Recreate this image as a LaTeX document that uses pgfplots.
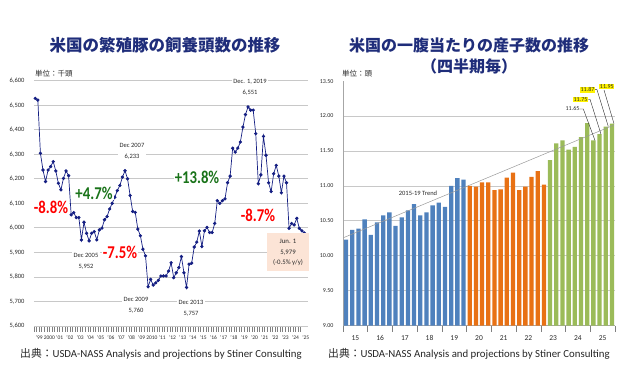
\documentclass[border=0pt]{standalone}
\usepackage{pgfplots}
\pgfplotsset{compat=1.18}
\usepackage{fontspec}
\setmainfont{Carlito}
\newfontfamily\jp{Noto Sans CJK JP}
\definecolor{navyline}{RGB}{20,30,130}
\definecolor{titleblue}{RGB}{31,45,122}
\definecolor{gridgray}{RGB}{200,200,200}
\definecolor{barblue}{RGB}{79,129,189}
\definecolor{barorange}{RGB}{232,113,20}
\definecolor{bargreen}{RGB}{155,187,89}
\definecolor{pctred}{RGB}{255,0,0}
\definecolor{pctgreen}{RGB}{25,115,25}
\definecolor{peach}{RGB}{252,228,214}
\definecolor{txt}{RGB}{40,40,40}
\newcommand{\pct}[1]{\scalebox{0.82}[1]{\fontsize{18}{20}\selectfont\bfseries #1}}
\begin{document}
\begin{tikzpicture}[x=1pt,y=1pt]
\path[use as bounding box] (0,0) rectangle (630,387);

% titles
\node[font=\jp\bfseries\fontsize{16.5}{18}\selectfont, text=titleblue] at (165,342) {米国の繁殖豚の飼養頭数の推移};
\node[font=\jp\bfseries\fontsize{16}{18}\selectfont, text=titleblue] at (469,342) {米国の一腹当たりの産子数の推移};
\node[font=\jp\bfseries\fontsize{16}{18}\selectfont, text=titleblue] at (469,321) {（四半期毎）};

% ---------------- left chart ----------------
\begin{axis}[at={(34pt,61pt)}, anchor=south west, scale only axis,
  width=274.3pt, height=245.3pt,
  xmin=0.5, xmax=107.5, ymin=5600, ymax=6600,
  axis x line*=bottom, axis y line*=left,
  x axis line style={color=gridgray, line width=0.8pt, -},
  y axis line style={draw=none, -},
  ytick={5600,5700,...,6600},
  ymajorgrids, grid style={color=gridgray, line width=0.8pt},
  ytick style={draw=none},
  yticklabel style={font=\fontsize{6.5}{7}\selectfont, text=txt,
     /pgf/number format/.cd, fixed, 1000 sep={,}, assume math mode=true},
  xtick={0.5,4.5,...,104.5}, xticklabels={},
  minor x tick num=3,
  tick align=outside, major tick length=6pt, minor tick length=6pt,
  xtick style={color=gray, line width=0.5pt},
  minor x tick style={color=gray, line width=0.5pt},
  extra x ticks={2.5,6.5,...,106.5},
  extra x tick labels={'99,2000,'01,'02,'03,'04,'05,'06,'07,'08,'09,2010,'11,'12,'13,'14,'15,'16,'17,'18,'19,'20,'21,'22,'23,'24,'25},
  extra x tick style={major tick length=0pt, minor tick length=0pt, grid=none,
     xticklabel style={font=\fontsize{5.5}{6}\selectfont, text=txt, yshift=-6pt}},
  clip=false,
]
\addplot[color=navyline, line width=0.7pt, mark=*, mark size=1.3pt] coordinates {
(1,6528) (2,6521) (3,6304) (4,6236) (5,6189) (6,6236) (7,6250) (8,6270) (9,6232) (10,6182)
(11,6155) (12,6202) (13,6232) (14,6213) (15,6053) (16,6062) (17,6042) (18,6042) (19,5951) (20,6023)
(21,5978) (22,5947) (23,5978) (24,5985) (25,5951) (26,5992) (27,5999) (28,6033) (29,6046) (30,6077)
(31,6100) (32,6125) (33,6152) (34,6173) (35,6207) (36,6233) (37,6200) (38,6132) (39,6067) (40,6063)
(41,5995) (42,5968) (43,5913) (44,5886) (45,5760) (46,5790) (47,5767) (48,5776) (49,5786) (50,5804)
(51,5804) (52,5804) (53,5824) (54,5858) (55,5797) (56,5817) (57,5838) (58,5883) (59,5817) (60,5757)
(61,5852) (62,5856) (63,5922) (64,5942) (65,5987) (66,5924) (67,5988) (68,6002) (69,5981) (70,5981)
(71,6018) (72,6111) (73,6100) (74,6111) (75,6118) (76,6184) (77,6211) (78,6325) (79,6309) (80,6325)
(81,6350) (82,6411) (83,6462) (84,6493) (85,6480) (86,6480) (87,6384) (88,6180) (89,6216) (90,6373)
(91,6296) (92,6184) (93,6148) (94,6221) (95,6255) (96,6211) (97,6143) (98,6211) (99,6184) (100,5998)
(101,6018) (102,6012) (103,6039) (104,5998) (105,5988) (106,5979)};
\end{axis}

% left annotations
\node[anchor=west, font=\jp\fontsize{7.5}{8}\selectfont, text=txt, inner sep=0pt] at (35,313) {単位：千頭};
\node[fill=white, inner sep=1pt, text=pctred] at (51,180) {\pct{-8.8\%}};
\node[fill=white, inner sep=1pt, text=pctgreen] at (94,194) {\pct{+4.7\%}};
\node[fill=white, inner sep=1pt, text=pctred] at (120,135) {\pct{-7.5\%}};
\node[fill=white, inner sep=1pt, text=pctgreen] at (197,210) {\pct{+13.8\%}};
\node[fill=white, inner sep=1pt, text=pctred] at (258,172) {\pct{-8.7\%}};
\tikzset{ann/.style={fill=white, inner sep=1.5pt, align=center, text=txt, font=\fontsize{6.5}{11}\selectfont}}
\node[ann] at (132,235.5) {Dec 2007\\6,233};
\node[ann] at (86,126) {Dec 2005\\5,952};
\node[ann] at (136,81.5) {Dec 2009\\5,760};
\node[ann] at (191,78.5) {Dec 2013\\5,757};
\node[ann] at (250,299.5) {Dec. 1, 2019\\6,551};
\fill[peach] (267,116) rectangle (309,154);
\node[align=center, text=txt, font=\fontsize{6.8}{10.5}\selectfont] at (288,134.5) {Jun. 1\\5,979\\(-0.5\% y/y)};

% ---------------- right chart ----------------
\begin{axis}[at={(343pt,61.3pt)}, anchor=south west, scale only axis,
  width=272pt, height=244.6pt,
  xmin=0.5, xmax=44.5, ymin=9, ymax=12.5,
  axis x line*=bottom, axis y line*=left,
  axis line style={color=gray!70, line width=0.6pt, -},
  ytick={9,9.5,...,12}, ymajorgrids, grid style={color=gridgray, line width=0.8pt},
  extra y ticks={12.5}, extra y tick labels={13.50}, extra y tick style={grid=none},
  ytick style={draw=none},
  yticklabel style={font=\fontsize{6}{7}\selectfont, text=txt,
     /pgf/number format/.cd, fixed, fixed zerofill, precision=2, assume math mode=true},
  xtick={0.5,4.5,...,44.5}, xticklabels={},
  tick align=outside, major tick length=6pt,
  xtick style={color=gray, line width=0.5pt},
  extra x ticks={2.5,6.5,...,42.5},
  extra x tick labels={15,16,17,18,19,20,21,22,23,24,25},
  extra x tick style={major tick length=0pt, grid=none,
     xticklabel style={font=\fontsize{7.5}{8}\selectfont, text=txt, yshift=-6pt}},
]
\addplot[ybar, bar width=4.3pt, bar shift=0pt, fill=barblue, draw=none] coordinates {
(1,10.23) (2,10.37) (3,10.39) (4,10.52) (5,10.30) (6,10.48) (7,10.58) (8,10.62) (9,10.43) (10,10.55)
(11,10.65) (12,10.74) (13,10.58) (14,10.62) (15,10.72) (16,10.76) (17,10.70) (18,11.00) (19,11.11) (20,11.09)};
\addplot[ybar, bar width=4.3pt, bar shift=0pt, fill=barorange, draw=none] coordinates {
(21,11.00) (22,10.99) (23,11.05) (24,11.05) (25,10.94) (26,10.95) (27,11.12) (28,11.19) (29,10.94) (30,10.99)
(31,11.13) (32,11.21) (33,11.02)};
\addplot[ybar, bar width=4.3pt, bar shift=0pt, fill=bargreen, draw=none] coordinates {
(34,11.37) (35,11.61) (36,11.65) (37,11.52) (38,11.56) (39,11.70) (40,11.90) (41,11.65) (42,11.74) (43,11.85) (44,11.89)};
\addplot[color=gray!80, line width=0.5pt] coordinates {(0.6,10.26) (44.3,11.87)};
\end{axis}

% right annotations
\node[anchor=west, font=\jp\fontsize{7.5}{8}\selectfont, text=txt, inner sep=0pt] at (342,313) {単位：頭};
\node[font=\fontsize{6.5}{7}\selectfont, text=txt] at (418,194) {2015-19 Trend};
\tikzset{lab/.style={font=\fontsize{6}{7}\selectfont, inner sep=0.8pt, text=txt}}
\draw[color=txt, line width=0.4pt] (579.3,278) -- (583.3,278) -- (595,246.5);
\draw[color=txt, line width=0.4pt] (586.7,287.7) -- (590,287.7) -- (601,252.8);
\draw[color=txt, line width=0.4pt] (593.3,297.3) -- (597,297.3) -- (608.3,260.5);
\draw[color=txt, line width=0.4pt] (604,297) -- (614,263.3);
\node[lab] at (572.5,278) {11.65};
\node[lab, fill=yellow] at (580.5,287.7) {11.75};
\node[lab, fill=yellow] at (587.5,297.3) {11.87};
\node[lab, fill=yellow] at (606.8,300.3) {11.95};

% footers
\node[anchor=west, font=\fontsize{10.8}{12}\selectfont, text=black!85, inner sep=0pt] at (20,33) {{\jp 出典：}USDA-NASS Analysis and projections by Stiner Consulting};
\node[anchor=west, font=\fontsize{10.8}{12}\selectfont, text=black!85, inner sep=0pt] at (328,33) {{\jp 出典：}USDA-NASS Analysis and projections by Stiner Consulting};
\end{tikzpicture}
\end{document}
